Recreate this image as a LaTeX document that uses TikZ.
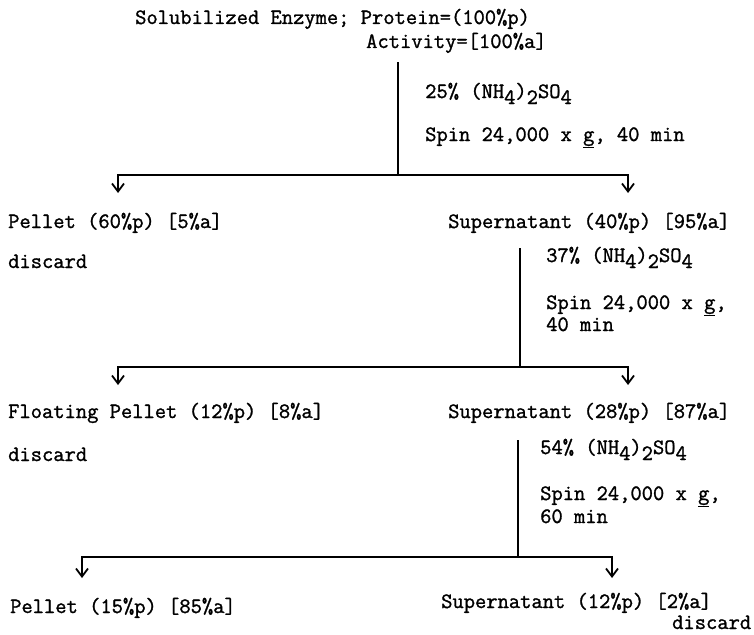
\documentclass[tikz,border=0pt]{standalone}
\usepackage{fontspec}
\setmonofont{Latin Modern Mono}[FakeBold=1.3]
\usetikzlibrary{arrows.meta,positioning}
\newcommand{\dn}[1]{\raisebox{-6pt}{#1}}
\newcommand{\salt}{(NH\dn{4})\dn{2}SO\dn{4}}

\begin{document}
\begin{tikzpicture}[x=1pt,y=-1pt,
		txt/.style={anchor=base west,inner sep=0pt,font=\ttfamily\bfseries\fontsize{21.9}{26}\selectfont},
		stem/.style={line width=1.8pt},
		split/.style={line width=1.8pt,-{Straight Barb[length=8pt,width=12pt,line width=1.8pt]}}]
	\useasboundingbox (0,0) rectangle (754,634);

	% starting material
	\node[txt] (start) at (135,24) {Solubilized Enzyme; Protein=(100\%p)};
	\node[txt] (act) at (366,48) {Activity=[100\%a]};

	% first cut
	\node[txt] (salt1) at (425,98) {25\% \salt};
	\node[txt] (spin1) at (425,141) {Spin 24,000 x \underline{g}, 40 min};
	\coordinate (j1) at (398,175);
	\coordinate (tipL1) at (118,193);
	\coordinate (tipR1) at (628,193);
	\node[txt] (pel1) at (8,228) {Pellet (60\%p) [5\%a]};
	\node[txt] (dis1) at (8,268) {discard};
	\node[txt] (sup1) at (448,228) {Supernatant (40\%p) [95\%a]};

	% second cut
	\node[txt] (salt2) at (546,262) {37\% \salt};
	\node[txt] (spin2) at (546,309) {Spin 24,000 x \underline{g},};
	\node[txt] (time2) at (546,331) {40 min};
	\coordinate (j2) at (520,367);
	\coordinate (tipL2) at (118,385);
	\coordinate (tipR2) at (628,385);
	\node[txt] (flt) at (8,418) {Floating Pellet (12\%p) [8\%a]};
	\node[txt] (dis2) at (8,461) {discard};
	\node[txt] (sup2) at (448,418) {Supernatant (28\%p) [87\%a]};

	% third cut
	\node[txt] (salt3) at (540,454) {54\% \salt};
	\node[txt] (spin3) at (540,500) {Spin 24,000 x \underline{g},};
	\node[txt] (time3) at (540,523) {60 min};
	\coordinate (j3) at (518,557);
	\coordinate (tipL3) at (82,578);
	\coordinate (tipR3) at (612,578);
	\node[txt] (pel3) at (10,613) {Pellet (15\%p) [85\%a]};
	\node[txt] (sup3) at (441,608) {Supernatant (12\%p) [2\%a]};
	\node[txt] (dis3) at (672,629) {discard};

	% connectors
	\draw[stem] ([yshift=-9pt]act.south -| j1) -- (j1);
	\draw[split] (j1) -| (tipL1);
	\draw[split] (j1) -| (tipR1);
	\draw[stem] ([yshift=-15pt]sup1.south -| j2) -- (j2);
	\draw[split] (j2) -| (tipL2);
	\draw[split] (j2) -| (tipR2);
	\draw[stem] ([yshift=-17pt]sup2.south -| j3) -- (j3);
	\draw[split] (j3) -| (tipL3);
	\draw[split] (j3) -| (tipR3);
\end{tikzpicture}
\end{document}
